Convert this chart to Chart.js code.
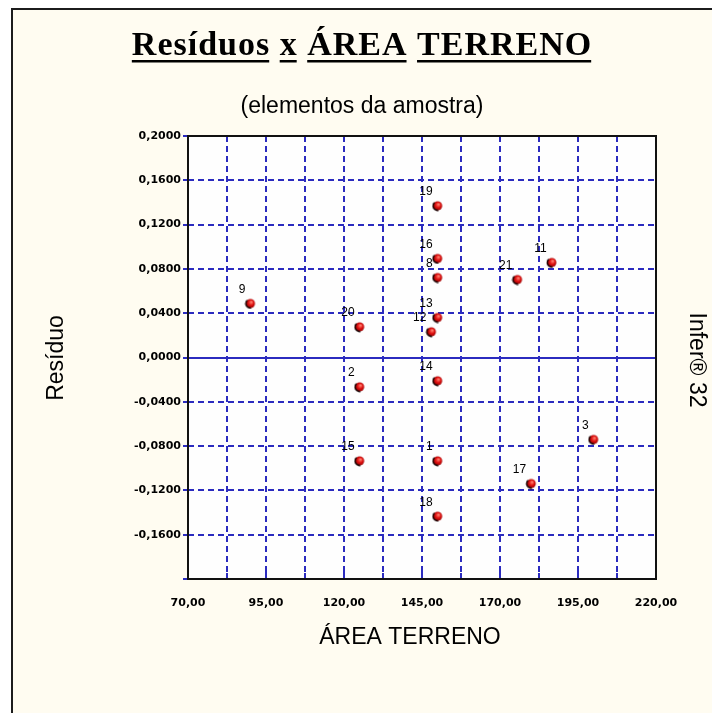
<!DOCTYPE html>
<html>
<head>
<meta charset="utf-8">
<script src="https://cdn.jsdelivr.net/npm/chart.js@4.4.1/dist/chart.umd.min.js"></script>
<style>
  html, body { margin: 0; padding: 0; background: #ffffff; }
  #wrap { width: 712px; height: 713px; }
  canvas { display: block; }
</style>
</head>
<body>
<div id="wrap"><canvas id="chart" width="712" height="713"></canvas></div>
<script>
// Sample elements: identifier, land area and regression residual
const pointIds = ['1', '2', '3', '8', '9', '11', '12', '13', '14', '15', '16', '17', '18', '19', '20', '21'];
const areaTerreno = [150, 125, 200, 150, 90, 186.6, 148, 150, 150, 125, 150, 180, 150, 150, 125, 175.6];
const residuos = [-0.0933, -0.0265, -0.074, 0.0722, 0.0488, 0.0858, 0.0232, 0.0361, -0.021, -0.0933, 0.0894, -0.1138, -0.1433, 0.137, 0.0277, 0.0704];

// Axis ranges and tick steps
const xMin = 70, xMax = 220, xStep = 12.5, xLabelStep = 25;
const yMin = -0.2, yMax = 0.2, yStep = 0.04;

// Text
const titleText = 'Resíduos x ÁREA TERRENO';
const subtitleText = '(elementos da amostra)';
const xTitle = 'ÁREA TERRENO';
const yTitle = 'Resíduo';
const sideText = 'Infer® 32';

const GRID_BLUE = '#2b2bbf';
const PAPER = '#fffcf1';

// Little shaded red ball used as the point marker
function makeBall() {
  const c = document.createElement('canvas');
  c.width = 12; c.height = 12;
  const g = c.getContext('2d');
  const grad = g.createRadialGradient(7, 4.5, 0.5, 6, 6, 5.2);
  grad.addColorStop(0, '#ff7a6a');
  grad.addColorStop(0.45, '#e01010');
  grad.addColorStop(1, '#8a0000');
  g.beginPath();
  g.arc(6, 6, 4.6, 0, Math.PI * 2);
  g.fillStyle = grad;
  g.fill();
  g.beginPath();
  g.arc(6, 6, 4.6, Math.PI * 0.45, Math.PI * 1.25);
  g.strokeStyle = '#1a0000';
  g.lineWidth = 1.6;
  g.stroke();
  return c;
}

// Paper, frame of the page and white plot area
const backdrop = {
  id: 'backdrop',
  beforeDraw(chart) {
    const { ctx, width, height, chartArea: a } = chart;
    ctx.save();
    ctx.fillStyle = '#ffffff';
    ctx.fillRect(0, 0, width, height);
    ctx.fillStyle = PAPER;
    ctx.fillRect(11, 8, width - 11, height - 8);
    ctx.strokeStyle = '#1c1c1c';
    ctx.lineWidth = 2;
    ctx.beginPath();
    ctx.moveTo(12, height);
    ctx.lineTo(12, 9);
    ctx.lineTo(width, 9);
    ctx.stroke();
    ctx.fillStyle = '#fefefe';
    ctx.fillRect(a.left, a.top, a.right - a.left, a.bottom - a.top);
    ctx.restore();
  }
};

// Black plot frame, bottom tick marks and point identifiers
const decorations = {
  id: 'decorations',
  beforeDatasetsDraw(chart) {
    const { ctx, chartArea: a } = chart;
    const xs = chart.scales.x;
    ctx.save();
    // short solid tick marks rising from the bottom edge
    ctx.strokeStyle = GRID_BLUE;
    ctx.lineWidth = 2;
    xs.ticks.forEach(t => {
      if (t.value <= xMin || t.value >= xMax) return;
      const px = Math.round(xs.getPixelForValue(t.value));
      const major = Math.abs(((t.value - xMin) % xLabelStep)) < 1e-9;
      ctx.beginPath();
      ctx.moveTo(px, a.bottom);
      ctx.lineTo(px, a.bottom - (major ? 9 : 6));
      ctx.stroke();
    });
    // frame
    ctx.strokeStyle = '#111111';
    ctx.lineWidth = 2;
    ctx.strokeRect(a.left, a.top, a.right - a.left, a.bottom - a.top);
    // identifiers, up and to the left of each marker
    const meta = chart.getDatasetMeta(0);
    ctx.fillStyle = '#000000';
    ctx.font = '12px "Liberation Sans", Arial, sans-serif';
    ctx.textAlign = 'right';
    ctx.textBaseline = 'middle';
    meta.data.forEach((el, i) => {
      ctx.fillText(pointIds[i], el.x - 5, el.y - 14);
    });
    ctx.restore();
  },
  afterDraw(chart) {
    const { ctx } = chart;
    ctx.save();
    ctx.fillStyle = '#000000';
    // main title with each word underlined
    ctx.font = 'bold 34px "Liberation Serif", "Times New Roman", serif';
    ctx.letterSpacing = '1px';
    ctx.textAlign = 'left';
    ctx.textBaseline = 'alphabetic';
    const total = ctx.measureText(titleText).width;
    const x0 = 362 - total / 2;
    const baseY = 55;
    ctx.fillText(titleText, x0, baseY);
    let offset = 0;
    titleText.split(' ').forEach(word => {
      const start = x0 + ctx.measureText(titleText.slice(0, offset)).width;
      const w = ctx.measureText(word).width - 1;
      ctx.fillRect(start, baseY + 5, w, 2.5);
      offset += word.length + 1;
    });
    ctx.letterSpacing = '0px';

    ctx.font = '23px "Liberation Sans", Arial, sans-serif';
    ctx.textAlign = 'center';
    ctx.fillText(subtitleText, 362, 113);
    ctx.fillText(xTitle, 410, 644);

    ctx.save();
    ctx.translate(63, 358);
    ctx.rotate(-Math.PI / 2);
    ctx.fillText(yTitle, 0, 0);
    ctx.restore();

    ctx.save();
    ctx.translate(690, 360);
    ctx.rotate(Math.PI / 2);
    ctx.fillText(sideText, 0, 0);
    ctx.restore();
    ctx.restore();
  }
};

const tickFont = { family: '"DejaVu Sans", sans-serif', size: 11, weight: 'bold' };

new Chart(document.getElementById('chart'), {
  type: 'scatter',
  data: {
    datasets: [{
      label: yTitle,
      data: areaTerreno.map((x, i) => ({ x, y: residuos[i] })),
      pointStyle: makeBall(),
      pointRadius: 6,
      pointHoverRadius: 6
    }]
  },
  options: {
    responsive: false,
    animation: false,
    events: [],
    layout: { padding: { top: 136, right: 56, bottom: 0, left: 0 } },
    plugins: { legend: { display: false }, tooltip: { enabled: false }, title: { display: false } },
    scales: {
      x: {
        type: 'linear',
        min: xMin, max: xMax,
        afterFit(scale) { scale.height = 134; },
        border: { display: false, dash: [6, 4] },
        grid: { color: GRID_BLUE, lineWidth: 2, drawTicks: false },
        ticks: {
          stepSize: xStep,
          autoSkip: false,
          maxRotation: 0,
          padding: 18,
          color: '#000000',
          font: tickFont,
          callback: v => (Math.abs((v - xMin) % xLabelStep) < 1e-9 ? v.toFixed(2).replace('.', ',') : '')
        }
      },
      y: {
        type: 'linear',
        min: yMin, max: yMax,
        afterFit(scale) { scale.width = 188; },
        border: {
          display: false,
          dash: ctx => (ctx.tick && Math.abs(ctx.tick.value) < 1e-9 ? [] : [6, 4])
        },
        grid: {
          color: GRID_BLUE, lineWidth: 2,
          drawTicks: true, tickLength: 5, tickColor: GRID_BLUE, tickWidth: 2
        },
        ticks: {
          stepSize: yStep,
          autoSkip: false,
          padding: 2,
          color: '#000000',
          font: tickFont,
          callback: v => {
            if (v < yMin + 1e-9) return '';
            const val = Math.abs(v) < 1e-9 ? 0 : v;
            return val.toFixed(4).replace('.', ',');
          }
        }
      }
    }
  },
  plugins: [backdrop, decorations]
});
</script>
</body>
</html>
